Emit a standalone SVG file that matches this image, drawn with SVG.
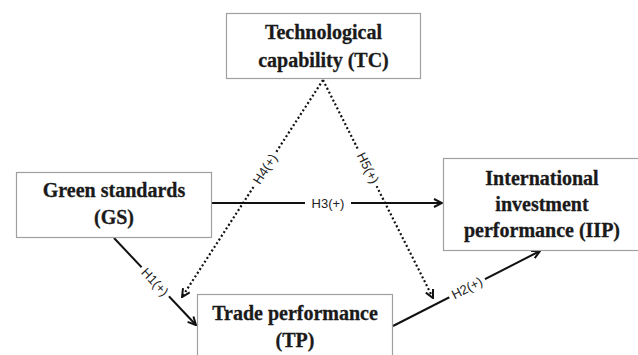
<svg xmlns="http://www.w3.org/2000/svg" width="638" height="355" viewBox="0 0 638 355">
<defs>
<style>
.box{fill:#fff;stroke:#a0a0a0;stroke-width:1.2}
.nt{font-family:"Liberation Serif","DejaVu Serif",serif;font-weight:bold;font-size:20px;fill:#1a1a1a;stroke:#1a1a1a;stroke-width:0.3;text-anchor:middle}
.ln{stroke:#111;stroke-width:2;fill:none}
.dot{stroke:#111;stroke-width:2.2;fill:none;stroke-dasharray:2 2.4}
.lb{font-family:"Liberation Sans","DejaVu Sans",sans-serif;font-size:13px;fill:#222;text-anchor:middle;dominant-baseline:central}
.bg{fill:#fff}
</style>
<marker id="ah" viewBox="0 0 10 10" refX="9" refY="5" markerWidth="10" markerHeight="10" markerUnits="userSpaceOnUse" orient="auto">
<path d="M1,1 L9,5 L1,9" fill="none" stroke="#111" stroke-width="2" stroke-dasharray="none"/>
</marker>
</defs>
<rect width="638" height="355" fill="#fff"/>
<g id="connectors">
<g id="h3"><line class="ln" x1="212" y1="203" x2="442" y2="203" marker-end="url(#ah)"/>
<rect class="bg" x="305" y="195" width="46" height="16"/><text class="lb" x="328" y="203">H3(+)</text></g>
<g id="h1"><line class="ln" x1="114" y1="238" x2="196" y2="325" marker-end="url(#ah)"/>
<g transform="translate(155,282) rotate(46.7)"><rect class="bg" x="-20" y="-8" width="40" height="16"/><text class="lb" x="0" y="0">H1(+)</text></g></g>
<g id="h2"><line class="ln" x1="393" y1="326" x2="540" y2="251" marker-end="url(#ah)"/>
<g transform="translate(467,288) rotate(-27.2)"><rect class="bg" x="-20" y="-8" width="40" height="16"/><text class="lb" x="0" y="0">H2(+)</text></g></g>
<g id="h4"><line class="dot" x1="323" y1="80" x2="182" y2="297" marker-end="url(#ah)"/>
<g transform="translate(265,169) rotate(-56.9)"><rect class="bg" x="-20" y="-7" width="40" height="14"/><text class="lb" x="0" y="0">H4(+)</text></g></g>
<g id="h5"><line class="dot" x1="323" y1="80" x2="433" y2="298" marker-end="url(#ah)"/>
<g transform="translate(368,168) rotate(63.3)"><rect class="bg" x="-20" y="-7" width="40" height="14"/><text class="lb" x="0" y="0">H5(+)</text></g></g>
</g>
<g id="TC"><rect class="box" x="226.5" y="13.5" width="194" height="65"/>
<text class="nt" x="323.5" y="39">Technological</text><text class="nt" x="323.5" y="67">capability (TC)</text></g>
<g id="GS"><rect class="box" x="16.5" y="172.5" width="195" height="65"/>
<text class="nt" x="114" y="197">Green standards</text><text class="nt" x="114" y="224">(GS)</text></g>
<g id="IIP"><rect class="box" x="443.5" y="158.5" width="200" height="92"/>
<text class="nt" x="542" y="185">International</text><text class="nt" x="542" y="211">investment</text><text class="nt" x="542" y="237">performance (IIP)</text></g>
<g id="TP"><rect class="box" x="197.5" y="294.5" width="195" height="70"/>
<text class="nt" x="295" y="320">Trade performance</text><text class="nt" x="295" y="347">(TP)</text></g>
</svg>
